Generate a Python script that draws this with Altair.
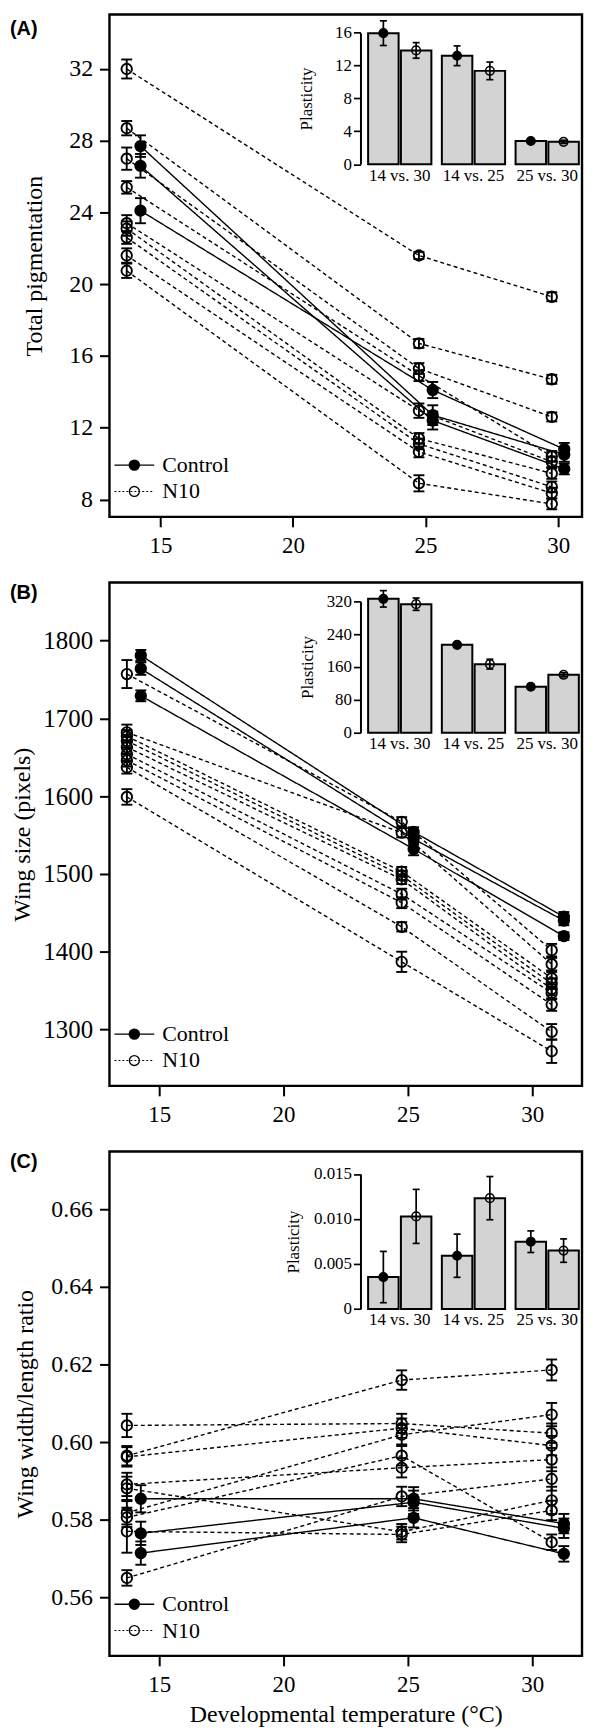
import altair as alt
import pandas as pd

SERIF = "Liberation Serif"
SANS = "Liberation Sans"
GROUPS = ["Control", "N10"]
COMPARISONS = ["14 vs. 30", "14 vs. 25", "25 vs. 30"]
XTICKS = [15, 20, 25, 30]

# ---------------- Panel A: total pigmentation ----------------
A_temp_ctrl = [14.25, 25.27, 30.23]
A_temp_n10 = [13.73, 24.75, 29.76]
A_ctrl = [[27.7, 12.7, 10.5], [26.6, 12.4, 9.7], [24.1, 14.1, 10.8]]
A_ctrl_se = [[0.6, 0.55, 0.4], [0.66, 0.5, 0.3], [0.7, 0.45, 0.35]]
A_n10 = [[32.0, 21.6, 19.3], [28.7, 16.7, 14.7], [27.0, 15.3, 12.6],
         [25.4, 14.9, 10.4], [23.4, 12.95, 10.1], [23.1, 11.4, 9.45],
         [22.6, 11.1, 8.7], [21.6, 10.65, 8.35], [20.75, 8.9, 7.75]]
A_n10_se = [[0.53, 0.2, 0.25], [0.4, 0.25, 0.25], [0.62, 0.3, 0.25],
            [0.35, 0.3, 0.3], [0.45, 0.4, 0.3], [0.4, 0.3, 0.3],
            [0.35, 0.3, 0.3], [0.4, 0.3, 0.3], [0.4, 0.45, 0.3]]
A_pl_ctrl = [15.95, 13.2, 2.82]
A_pl_ctrl_se = [1.5, 1.2, 0.15]
A_pl_n10 = [13.85, 11.36, 2.72]
A_pl_n10_se = [0.95, 1.07, 0.2]

# ---------------- Panel B: wing size ----------------
B_temp_ctrl = [14.26, 25.23, 31.27]
B_temp_n10 = [13.7, 24.75, 30.78]
B_ctrl = [[1781, 1554, 1445], [1764, 1545, 1440], [1729, 1532, 1420]]
B_ctrl_se = [[7, 6, 6], [8, 7, 6], [7, 8, 5]]
B_n10 = [[1757, 1567, 1402], [1682, 1553, 1384], [1677, 1503, 1366],
         [1671, 1498, 1359], [1663, 1493, 1352], [1654, 1474, 1347],
         [1646, 1463, 1332], [1637, 1432, 1297], [1599, 1387, 1272]]
B_n10_se = [[18, 6, 8], [10, 6, 8], [8, 6, 8], [8, 6, 7], [8, 6, 8],
            [8, 7, 8], [8, 7, 8], [8, 6, 10], [10, 13, 15]]
B_pl_ctrl = [326, 214, 112]
B_pl_ctrl_se = [20, 3, 6]
B_pl_n10 = [313, 167, 141]
B_pl_n10_se = [15, 12, 5]

# ---------------- Panel C: wing width/length ratio ----------------
C_temp_ctrl = [14.26, 25.23, 31.27]
C_temp_n10 = [13.7, 24.75, 30.78]
C_ctrl = [[0.5854, 0.5854, 0.5790], [0.5765, 0.5845, 0.5778], [0.5714, 0.5805, 0.5712]]
C_ctrl_se = [[0.0035, 0.003, 0.0025], [0.003, 0.003, 0.0025], [0.003, 0.0025, 0.002]]
C_n10 = [[0.6043, 0.6048, 0.6023], [0.5965, 0.6160, 0.6186], [0.5962, 0.6036, 0.5991],
         [0.5891, 0.5934, 0.5955], [0.5881, 0.5769, 0.5850], [0.5818, 0.6019, 0.6071],
         [0.5806, 0.5965, 0.5742], [0.5770, 0.5762, 0.5824], [0.5650, 0.5860, 0.5905]]
C_n10_se = [[0.003, 0.0025, 0.0025], [0.0025, 0.0025, 0.0027], [0.0025, 0.0025, 0.0025],
            [0.003, 0.0025, 0.003], [0.003, 0.002, 0.0035], [0.003, 0.0025, 0.003],
            [0.0025, 0.0025, 0.002], [0.0055, 0.002, 0.0025], [0.002, 0.0025, 0.003]]
C_pl_ctrl = [0.00355, 0.00592, 0.00748]
C_pl_ctrl_se = [0.00285, 0.0024, 0.0012]
C_pl_n10 = [0.01029, 0.01232, 0.00649]
C_pl_n10_se = [0.003, 0.0024, 0.0013]

W = 475


def main_df(tc, tn, ctrl, ctrl_se, n10, n10_se):
    rows = []
    for i, (vals, ses) in enumerate(zip(ctrl, ctrl_se)):
        for t, v, s in zip(tc, vals, ses):
            rows.append(dict(line=f"c{i}", grp="Control", temp=t, val=v, lo=v - s, hi=v + s))
    for i, (vals, ses) in enumerate(zip(n10, n10_se)):
        for t, v, s in zip(tn, vals, ses):
            rows.append(dict(line=f"n{i}", grp="N10", temp=t, val=v, lo=v - s, hi=v + s))
    return pd.DataFrame(rows)


def plast_df(pc, pcs, pn, pns):
    rows = []
    for c, v, s in zip(COMPARISONS, pc, pcs):
        rows.append(dict(cmp=c, grp="Control", val=v, lo=v - s, hi=v + s))
    for c, v, s in zip(COMPARISONS, pn, pns):
        rows.append(dict(cmp=c, grp="N10", val=v, lo=v - s, hi=v + s))
    return pd.DataFrame(rows)


def panel(tag, tag_y, mdf, pdf, xdom, ydom, yticks, yfmt, ytitle, ytpad, ylab_size, xtitle, H,
          iy_dom, iy_ticks, iy_expr, iy0, iy1, itpad):
    xs = alt.Scale(domain=xdom, nice=False, zero=False)
    ys = alt.Scale(domain=ydom, nice=False, zero=False)
    xax_kw = dict(values=XTICKS, grid=False, domain=False, tickSize=10, tickWidth=2,
                  tickColor="black", labelFont=SERIF, labelFontSize=23, labelColor="black",
                  labelPadding=8, labelFlush=False, titleFont=SERIF, titleFontSize=24,
                  titleFontWeight="normal", titleColor="black", titlePadding=6)
    xax = alt.Axis(title=xtitle, **xax_kw) if xtitle else alt.Axis(title=None, **xax_kw)
    yax = alt.Axis(values=yticks, format=yfmt, title=ytitle, grid=False, domain=False,
                   tickSize=10, tickWidth=2, tickColor="black", labelFont=SERIF,
                   labelFontSize=ylab_size, labelColor="black", labelPadding=7, titleFont=SERIF,
                   titleFontSize=24, titleFontWeight="normal", titleColor="black",
                   titlePadding=ytpad)
    X = alt.X("temp:Q", scale=xs, axis=xax)

    def Yf(f):
        return alt.Y(f, scale=ys, axis=yax)

    fill_enc = alt.Fill("grp:N", scale=alt.Scale(domain=GROUPS, range=["black", "transparent"]),
                        legend=None)
    base = alt.Chart(mdf)
    lines = base.mark_line(color="black", strokeWidth=1.4).encode(
        x=X, y=Yf("val:Q"), detail="line:N",
        strokeDash=alt.StrokeDash("grp:N", scale=alt.Scale(domain=GROUPS, range=[[1, 0], [4, 3]]),
                                  legend=None))
    ebar = base.mark_rule(color="black", strokeWidth=1.9).encode(x=X, y=Yf("lo:Q"), y2="hi:Q")
    cap_lo = base.mark_tick(orient="horizontal", color="black", size=11, thickness=1.9,
                            opacity=1).encode(x=X, y=Yf("lo:Q"))
    cap_hi = base.mark_tick(orient="horizontal", color="black", size=11, thickness=1.9,
                            opacity=1).encode(x=X, y=Yf("hi:Q"))
    pts = base.mark_point(shape="circle", size=110, filled=True, opacity=1, stroke="black",
                          strokeWidth=1.9).encode(x=X, y=Yf("val:Q"), fill=fill_enc)

    one = alt.Chart(pd.DataFrame({"k": [0]}))
    leg1, leg2 = H - 52, H - 25.5
    legend = [
        one.mark_rule(color="black", strokeWidth=1.4).encode(
            x=alt.value(5), x2=alt.value(45), y=alt.value(leg1)),
        one.mark_point(shape="circle", size=100, filled=True, fill="black", stroke="black",
                       strokeWidth=1.5, opacity=1).encode(x=alt.value(25), y=alt.value(leg1)),
        one.mark_text(text=GROUPS[0], font=SERIF, fontSize=22, align="left", baseline="middle",
                      color="black").encode(x=alt.value(53), y=alt.value(leg1)),
        one.mark_rule(color="black", strokeWidth=1.1, strokeDash=[2, 2]).encode(
            x=alt.value(5), x2=alt.value(45), y=alt.value(leg2)),
        one.mark_point(shape="circle", size=100, filled=False, stroke="black",
                       strokeWidth=1.3, opacity=1).encode(x=alt.value(25), y=alt.value(leg2)),
        one.mark_text(text=GROUPS[1], font=SERIF, fontSize=22, align="left", baseline="middle",
                      color="black").encode(x=alt.value(53), y=alt.value(leg2)),
    ]
    tagm = one.mark_text(text=tag, font=SANS, fontWeight="bold", fontSize=20, align="left",
                         baseline="middle", color="black").encode(
        x=alt.value(-100), y=alt.value(tag_y))

    # ---- inset bar chart ----
    ix1 = W - 3.2
    ix0 = ix1 - 211.8
    iax = ix0 - 7.7
    IX = alt.X("cmp:N", sort=COMPARISONS,
               scale=alt.Scale(domain=COMPARISONS, range=[ix0, ix1], paddingInner=0.142,
                               paddingOuter=0),
               axis=alt.Axis(orient="bottom", offset=-(H - iy0), domain=False, ticks=False,
                             tickSize=0, labelAngle=0, labelFont=SERIF, labelFontSize=17,
                             labelColor="black", labelPadding=3, title=None, grid=False))
    IXO = alt.XOffset("grp:N", scale=alt.Scale(domain=GROUPS, paddingInner=0.07, paddingOuter=0))
    iys = alt.Scale(domain=iy_dom, range=[iy0, iy1], nice=False, zero=False)
    iyax = alt.Axis(orient="left", offset=-iax, values=iy_ticks, labelExpr=iy_expr,
                    title="Plasticity", titleFont=SERIF, titleFontSize=17,
                    titleFontWeight="normal", titlePadding=itpad, titleColor="black",
                    labelFont=SERIF, labelFontSize=17, labelColor="black", labelPadding=2,
                    tickSize=7, tickWidth=1.7, tickColor="black", domain=True,
                    domainColor="black", domainWidth=2, grid=False)

    def IY(f):
        return alt.Y(f, scale=iys, axis=iyax)

    ib = alt.Chart(pdf)
    ibar = ib.mark_bar(fill="#d3d3d3", stroke="black", strokeWidth=2, opacity=1).encode(
        x=IX, xOffset=IXO, y=IY("val:Q"), y2=alt.datum(0))
    irule = ib.mark_rule(color="black", strokeWidth=1.7).encode(
        x=IX, xOffset=IXO, y=IY("lo:Q"), y2="hi:Q")
    icap_lo = ib.mark_tick(orient="horizontal", size=7, thickness=1.7, color="black",
                           opacity=1).encode(x=IX, xOffset=IXO, y=IY("lo:Q"))
    icap_hi = ib.mark_tick(orient="horizontal", size=7, thickness=1.7, color="black",
                           opacity=1).encode(x=IX, xOffset=IXO, y=IY("hi:Q"))
    ipts = ib.mark_point(shape="circle", size=75, filled=True, opacity=1, stroke="black",
                         strokeWidth=1.5).encode(x=IX, xOffset=IXO, y=IY("val:Q"), fill=fill_enc)

    main_layer = alt.layer(lines, ebar, cap_lo, cap_hi, pts, *legend, tagm)
    inset_layer = alt.layer(ibar, irule, icap_lo, icap_hi, ipts)
    return alt.layer(main_layer, inset_layer).resolve_scale(
        x="independent", y="independent").properties(width=W, height=H)


HA, HB, HC = 505, 506, 507
pA = panel("(A)", 14.7,
           main_df(A_temp_ctrl, A_temp_n10, A_ctrl, A_ctrl_se, A_n10, A_n10_se),
           plast_df(A_pl_ctrl, A_pl_ctrl_se, A_pl_n10, A_pl_n10_se),
           [13.08, 30.9], [7.03, 35.04], [8, 12, 16, 20, 24, 28, 32], "d",
           "Total pigmentation", 22, 24, None, HA,
           [0, 16], [0, 4, 8, 12, 16], "format(datum.value, 'd')", 150.5, 18.4, 19)
pB = panel("(B)", 10.5,
           main_df(B_temp_ctrl, B_temp_n10, B_ctrl, B_ctrl_se, B_n10, B_n10_se),
           plast_df(B_pl_ctrl, B_pl_ctrl_se, B_pl_n10, B_pl_n10_se),
           [13.0, 32.0], [1227.5, 1874.7], [1300, 1400, 1500, 1600, 1700, 1800], "d",
           "Wing size (pixels)", 8, 25, None, HB,
           [0, 320], [0, 80, 160, 240, 320], "format(datum.value, 'd')", 151, 18.9, 10)
pC = panel("(C)", 10.8,
           main_df(C_temp_ctrl, C_temp_n10, C_ctrl, C_ctrl_se, C_n10, C_n10_se),
           plast_df(C_pl_ctrl, C_pl_ctrl_se, C_pl_n10, C_pl_n10_se),
           [13.0, 32.0], [0.5449, 0.6749], [0.56, 0.58, 0.60, 0.62, 0.64, 0.66], ".2f",
           "Wing width/length ratio", 13, 24, "Developmental temperature (°C)", HC,
           [0, 0.015], [0, 0.005, 0.010, 0.015],
           "datum.value == 0 ? '0' : format(datum.value, '.3f')", 158.3, 22.6, 11)

chart = alt.vconcat(pA, pB, pC, spacing=21).properties(padding=0).configure(
    font=SERIF).configure_view(stroke="black", strokeWidth=2.4).configure_axis(
    grid=False, labelFont=SERIF, titleFont=SERIF).configure_text(font=SERIF)

chart.save("out.html", embed_options={"renderer": "svg", "actions": False})
